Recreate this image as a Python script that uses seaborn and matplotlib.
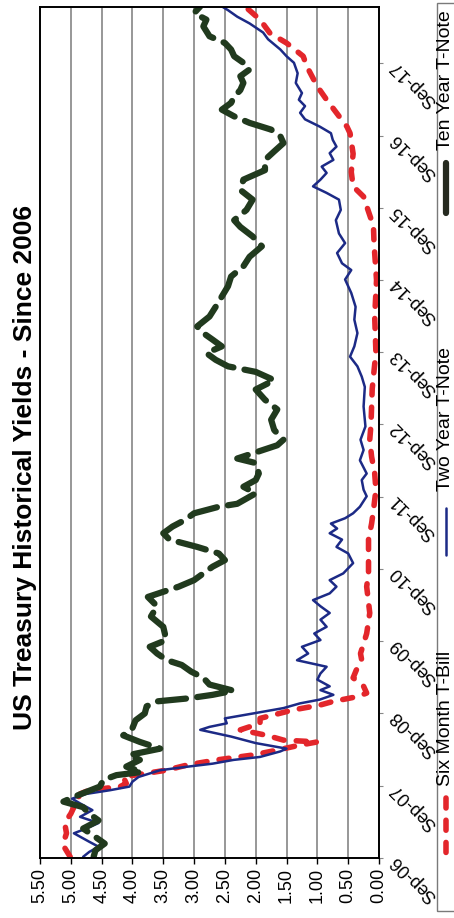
import numpy as np
import pandas as pd
import matplotlib
matplotlib.use("Agg")
import matplotlib.pyplot as plt
from matplotlib.lines import Line2D
from matplotlib.patches import Rectangle
import seaborn as sns

sns.set_theme(style="white")
plt.rcParams["font.family"] = ["Liberation Sans", "DejaVu Sans"]

# ---------------------------------------------------------------- data
six_month_dates = [
    "2006-09-07", "2006-11-07", "2007-01-04", "2007-02-25", "2007-04-13", "2007-05-16",
    "2007-07-22", "2007-08-10", "2007-08-28", "2007-09-13", "2007-10-16", "2007-11-19",
    "2007-12-16", "2008-01-10", "2008-02-04", "2008-02-28", "2008-03-25", "2008-04-10",
    "2008-04-19", "2008-05-13", "2008-06-10", "2008-07-13", "2008-08-07", "2008-09-19",
    "2008-10-13", "2008-11-01", "2008-11-25", "2008-12-13", "2009-01-16", "2009-02-28",
    "2009-04-07", "2009-05-28", "2009-07-01", "2009-10-10", "2010-01-22", "2010-06-04",
    "2010-08-10", "2011-01-28", "2011-04-19", "2011-06-25", "2011-10-07", "2011-12-28",
    "2012-03-22", "2012-06-16", "2012-09-01", "2013-03-01", "2013-09-01", "2014-03-01",
    "2014-09-01", "2015-03-01", "2015-06-01", "2015-09-10", "2015-10-28", "2015-12-19",
    "2016-03-01", "2016-06-01", "2016-09-13", "2016-10-16", "2016-12-25", "2017-03-01",
    "2017-05-07", "2017-08-16", "2017-10-07", "2017-12-13", "2018-02-01", "2018-04-10",
    "2018-06-01", "2018-06-16",
]
six_month_yield = [
    5.01, 5.13, 5.07, 5.10, 5.00, 4.95,
    4.85, 4.70, 4.20, 4.10, 4.15, 3.45,
    3.10, 2.63, 2.04, 1.66, 1.28, 1.00,
    1.55, 1.82, 2.25, 1.93, 1.93, 1.39,
    0.96, 0.74, 0.35, 0.20, 0.25, 0.42,
    0.37, 0.28, 0.30, 0.20, 0.15, 0.20,
    0.17, 0.17, 0.12, 0.09, 0.05, 0.07,
    0.12, 0.15, 0.13, 0.11, 0.05, 0.07,
    0.04, 0.08, 0.09, 0.20, 0.25, 0.42,
    0.45, 0.42, 0.47, 0.52, 0.69, 0.85,
    1.00, 1.17, 1.23, 1.50, 1.77, 1.93,
    2.12, 2.16,
]

two_year_dates = [
    "2006-09-07", "2006-10-02", "2006-10-28", "2006-11-22", "2007-01-04", "2007-01-28",
    "2007-02-25", "2007-03-28", "2007-05-01", "2007-06-04", "2007-06-28", "2007-07-22",
    "2007-08-10", "2007-08-28", "2007-09-22", "2007-10-16", "2007-11-19", "2007-12-07",
    "2007-12-22", "2008-01-10", "2008-01-25", "2008-02-22", "2008-03-07", "2008-04-04",
    "2008-05-07", "2008-06-10", "2008-06-25", "2008-07-13", "2008-08-07", "2008-09-01",
    "2008-09-28", "2008-10-22", "2008-11-10", "2008-12-04", "2008-12-28", "2009-01-16",
    "2009-02-19", "2009-03-22", "2009-04-25", "2009-05-28", "2009-07-01", "2009-08-04",
    "2009-09-07", "2009-10-10", "2009-11-13", "2009-12-19", "2010-01-22", "2010-02-25",
    "2010-03-28", "2010-05-01", "2010-06-04", "2010-07-07", "2010-08-10", "2010-10-01",
    "2010-11-19", "2010-12-22", "2011-01-28", "2011-03-01", "2011-03-25", "2011-04-19",
    "2011-05-16", "2011-06-10", "2011-07-13", "2011-09-04", "2011-10-07", "2011-11-25",
    "2011-12-28", "2012-03-04", "2012-04-25", "2012-06-16", "2012-08-22", "2012-12-01",
    "2013-03-10", "2013-05-01", "2013-06-22", "2013-08-10", "2013-10-01", "2013-12-07",
    "2014-02-13", "2014-04-19", "2014-06-28", "2014-09-04", "2014-10-22", "2014-11-25",
    "2015-01-16", "2015-03-07", "2015-04-25", "2015-07-01", "2015-08-22", "2015-10-13",
    "2015-11-16", "2015-12-19", "2016-01-22", "2016-02-25", "2016-03-28", "2016-05-01",
    "2016-06-04", "2016-07-07", "2016-08-10", "2016-09-13", "2016-10-16", "2016-11-22",
    "2016-12-25", "2017-01-28", "2017-03-01", "2017-04-04", "2017-05-25", "2017-07-13",
    "2017-09-04", "2017-10-07", "2017-11-10", "2018-01-01", "2018-02-04", "2018-03-22",
    "2018-04-25", "2018-05-28", "2018-06-16",
]
two_year_yield = [
    4.80, 4.70, 4.55, 4.70, 4.95, 4.75,
    4.55, 4.85, 4.65, 4.85, 4.98, 4.75,
    4.36, 4.05, 4.00, 3.90, 3.55, 3.10,
    2.70, 2.36, 1.93, 1.60, 1.50, 2.00,
    2.40, 2.90, 2.75, 2.47, 2.50, 2.04,
    1.55, 1.28, 0.96, 0.74, 0.95, 0.80,
    1.00, 0.95, 0.85, 1.33, 1.15, 1.25,
    0.95, 1.05, 0.85, 0.95, 0.80, 0.95,
    1.07, 0.80, 0.69, 0.80, 0.58, 0.42,
    0.50, 0.69, 0.60, 0.80, 0.68, 0.78,
    0.55, 0.42, 0.31, 0.20, 0.25, 0.28,
    0.20, 0.31, 0.25, 0.30, 0.22, 0.25,
    0.23, 0.28, 0.35, 0.47, 0.40, 0.35,
    0.40, 0.38, 0.45, 0.55, 0.45, 0.60,
    0.68, 0.55, 0.65, 0.70, 0.62, 0.65,
    0.85, 1.07, 0.95, 0.85, 0.93, 0.74,
    0.80, 0.69, 0.75, 0.78, 0.96, 1.20,
    1.28, 1.20, 1.30, 1.25, 1.35, 1.32,
    1.38, 1.50, 1.60, 1.80, 1.88, 2.10,
    2.30, 2.45, 2.55,
]

ten_year_dates = [
    "2006-09-07", "2006-10-10", "2006-11-13", "2006-12-16", "2007-01-28", "2007-03-10",
    "2007-04-13", "2007-05-16", "2007-06-13", "2007-07-07", "2007-08-01", "2007-08-28",
    "2007-10-01", "2007-10-25", "2007-11-10", "2007-12-07", "2008-01-10", "2008-02-04",
    "2008-03-07", "2008-04-10", "2008-05-13", "2008-06-19", "2008-07-28", "2008-09-01",
    "2008-10-07", "2008-11-01", "2008-11-16", "2008-12-04", "2008-12-25", "2009-01-25",
    "2009-02-28", "2009-04-01", "2009-05-04", "2009-05-28", "2009-07-01", "2009-08-04",
    "2009-09-07", "2009-11-13", "2010-01-04", "2010-02-25", "2010-04-13", "2010-06-04",
    "2010-07-07", "2010-08-10", "2010-09-13", "2010-10-16", "2010-11-19", "2010-12-22",
    "2011-01-28", "2011-03-01", "2011-04-04", "2011-05-07", "2011-06-10", "2011-07-13",
    "2011-07-28", "2011-09-19", "2011-10-22", "2011-11-25", "2011-12-28", "2012-02-19",
    "2012-03-13", "2012-05-19", "2012-06-16", "2012-08-04", "2012-09-25", "2012-11-16",
    "2013-01-04", "2013-02-25", "2013-04-13", "2013-05-25", "2013-06-22", "2013-07-25",
    "2013-08-28", "2013-10-01", "2013-11-04", "2013-12-07", "2014-01-10", "2014-03-01",
    "2014-04-19", "2014-06-10", "2014-08-01", "2014-09-19", "2014-11-10", "2014-12-28",
    "2015-02-19", "2015-04-10", "2015-05-28", "2015-07-01", "2015-08-22", "2015-10-13",
    "2015-12-01", "2016-01-22", "2016-03-10", "2016-05-01", "2016-06-13", "2016-07-25",
    "2016-08-28", "2016-10-01", "2016-11-04", "2016-12-07", "2017-01-10", "2017-02-13",
    "2017-03-16", "2017-04-19", "2017-05-25", "2017-06-28", "2017-08-01", "2017-09-04",
    "2017-10-07", "2017-11-10", "2017-12-13", "2018-01-16", "2018-03-07", "2018-04-10",
    "2018-05-13", "2018-06-16",
]
ten_year_yield = [
    4.63, 4.60, 4.45, 4.60, 4.80, 4.55,
    4.70, 4.80, 5.12, 4.95, 4.75, 4.53,
    4.47, 4.26, 3.85, 4.10, 3.88, 4.05,
    3.55, 3.88, 4.15, 4.00, 3.95, 3.80,
    3.77, 3.60, 3.10, 2.70, 2.36, 2.75,
    2.85, 3.05, 3.20, 3.44, 3.60, 3.72,
    3.45, 3.50, 3.70, 3.60, 3.75, 3.25,
    3.00, 2.85, 2.70, 2.50, 2.60, 2.95,
    3.40, 3.50, 3.35, 3.15, 3.00, 2.60,
    2.30, 2.00, 2.20, 2.00, 1.95, 2.00,
    2.30, 1.65, 1.55, 1.70, 1.75, 1.65,
    1.85, 2.00, 1.70, 2.00, 2.45, 2.65,
    2.80, 2.55, 2.70, 2.85, 2.95, 2.75,
    2.65, 2.55, 2.45, 2.40, 2.20, 2.10,
    1.90, 2.05, 2.25, 2.35, 2.15, 2.05,
    2.25, 2.20, 1.85, 1.85, 1.70, 1.55,
    1.60, 1.75, 2.10, 2.35, 2.55, 2.40,
    2.35, 2.25, 2.20, 2.25, 2.10, 2.20,
    2.35, 2.40, 2.50, 2.75, 2.85, 2.80,
    3.00, 2.90,
]

series_names = ["Six Month T-Bill", "Two Year T-Note", "Ten Year T-Note"]
yield_ticks = [0.00, 0.50, 1.00, 1.50, 2.00, 2.50, 3.00, 3.50, 4.00, 4.50, 5.00, 5.50]
date_tick_labels = ["Sep-06", "Sep-07", "Sep-08", "Sep-09", "Sep-10", "Sep-11",
                    "Sep-12", "Sep-13", "Sep-14", "Sep-15", "Sep-16", "Sep-17"]
date_range = ["2006-09-01", "2018-06-13"]
title = "US Treasury Historical Yields - Since 2006"

# ---------------------------------------------------------------- styles
styles = {
    "Six Month T-Bill": dict(color="#e3262b", lw=4.0, linestyle=(0, (1.8, 2.2)),
                             dash_capstyle="round", solid_capstyle="round"),
    "Two Year T-Note": dict(color="#1c2a86", lw=1.8, linestyle="-",
                            solid_capstyle="round"),
    "Ten Year T-Note": dict(color="#213a1e", lw=4.5, linestyle=(0, (4.5, 1.8)),
                            dash_capstyle="round", solid_capstyle="round"),
}

frames = {
    "Six Month T-Bill": pd.DataFrame({"date": pd.to_datetime(six_month_dates),
                                      "yield": six_month_yield}),
    "Two Year T-Note": pd.DataFrame({"date": pd.to_datetime(two_year_dates),
                                     "yield": two_year_yield}),
    "Ten Year T-Note": pd.DataFrame({"date": pd.to_datetime(ten_year_dates),
                                     "yield": ten_year_yield}),
}

# ---------------------------------------------------------------- figure
W, H = 454, 918
fig = plt.figure(figsize=(W / 100, H / 100), dpi=100)
fig.patch.set_facecolor("white")
ax = fig.add_axes([40 / W, 60 / H, 339 / W, 851 / H])

for name in series_names:
    sns.lineplot(data=frames[name], x="yield", y="date", orient="y",
                 estimator=None, ax=ax, **styles[name])

# yield axis runs right-to-left along the bottom
ax.set_xlim(5.5, 0)
ax.set_xticks(yield_ticks)
ax.set_xticklabels([f"{v:.2f}" for v in yield_ticks])
ax.tick_params(axis="x", bottom=True, direction="out", length=4, width=1,
               color="black", labelsize=13, pad=3, labelrotation=90,
               labelcolor="black")

# time axis runs upward along the right edge
date_ticks = pd.to_datetime([f"20{lab[-2:]}-09-01" for lab in date_tick_labels])
ax.set_ylim(pd.Timestamp(date_range[0]), pd.Timestamp(date_range[1]))
ax.yaxis.tick_right()
ax.set_yticks(date_ticks)
ax.set_yticklabels(date_tick_labels, rotation=135, ha="right", va="center",
                   rotation_mode="anchor")
ax.tick_params(axis="y", right=True, left=False, direction="out", length=3,
               width=0.8, color="#888888", labelsize=13, pad=7, labelcolor="black")

ax.set_xlabel("")
ax.set_ylabel("")
ax.grid(axis="x", color="#8f8f8f", lw=1.3)
ax.grid(axis="y", visible=False)
ax.set_axisbelow(True)
for sp in ax.spines.values():
    sp.set_visible(True)
    sp.set_color("black")
    sp.set_linewidth(1.4)

fig.text(25 / W, 1 - 467 / H, title, rotation=90, fontsize=19,
         fontweight="bold", ha="center", va="center", color="black")

# ---------------------------------------------------------------- legend (rotated)
fig.add_artist(Rectangle((437 / W, 1 - 911 / H), 40 / W, 908 / H,
                         transform=fig.transFigure, fill=False,
                         ec="#7a7a7a", lw=1.0))
legend_layout = {
    "Ten Year T-Note": dict(text_y=80, mark=(163, 213), mark_color="#262a20"),
    "Two Year T-Note": dict(text_y=419, mark=(508, 555), mark_color=None),
    "Six Month T-Bill": dict(text_y=718, mark=(798, 858), mark_color=None),
}
for name in series_names:
    lay = legend_layout[name]
    st = dict(styles[name])
    if lay["mark_color"]:
        st["color"] = lay["mark_color"]
        st["linestyle"] = "-"
    y0, y1 = lay["mark"]
    fig.add_artist(Line2D([446 / W, 446 / W], [1 - y0 / H, 1 - y1 / H],
                          transform=fig.transFigure, **st))
    fig.text(446 / W, 1 - lay["text_y"] / H, name, rotation=90, fontsize=14,
             ha="center", va="center", color="black")

fig.savefig("out.png", dpi=100, facecolor="white")
